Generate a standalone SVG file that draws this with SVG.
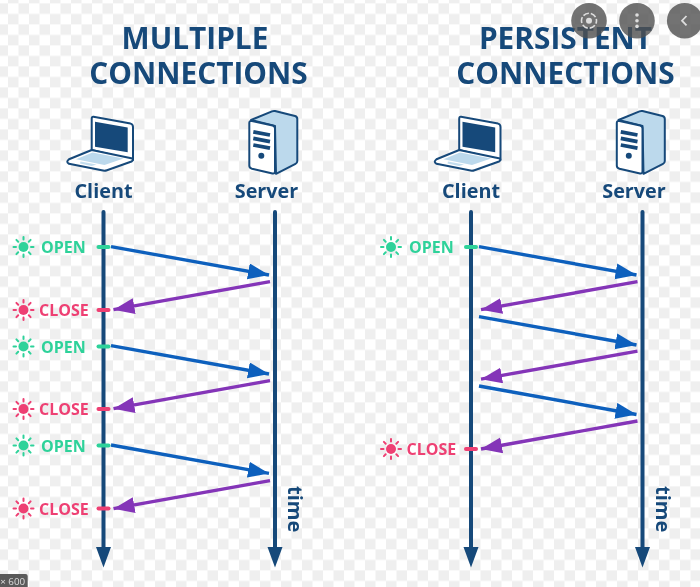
<svg xmlns="http://www.w3.org/2000/svg" xmlns:xlink="http://www.w3.org/1999/xlink" width="700" height="587" viewBox="0 0 700 587">
<style>
text{font-family:"Open Sans","Noto Sans","Liberation Sans",sans-serif}
.title{font-size:29.8px;font-weight:700;fill:#17497a;text-anchor:middle}
.role{font-size:19.8px;font-weight:700;fill:#17497a;text-anchor:middle}
.time{font-size:20px;font-weight:700;fill:#17497a}
.open{font-size:16px;font-weight:700;fill:#2fd29a}
.close{font-size:16px;font-weight:700;fill:#ee3f73}
.life{stroke:#17497a;stroke-width:4;stroke-linecap:round;fill:none}
.lifehead{fill:#17497a}
.req{stroke:#1060bd;stroke-width:3.4;fill:none;marker-end:url(#hb)}
.res{stroke:#8434b8;stroke-width:3.4;fill:none;marker-end:url(#hp)}
.tick-o{stroke:#2fd29a;stroke-width:4;stroke-linecap:round}
.tick-c{stroke:#ee3f73;stroke-width:4;stroke-linecap:round}
.ink{stroke:#17497a;stroke-width:2;stroke-linejoin:round}
.btn{fill:#505050;fill-opacity:.8}
</style>
<defs>
<filter id="soft" filterUnits="userSpaceOnUse" x="0" y="0" width="700" height="587"><feGaussianBlur stdDeviation="0.35"/></filter>
<pattern id="checker" patternUnits="userSpaceOnUse" x="8" y="3.4" width="21" height="21">
<rect width="21" height="21" fill="#ffffff"/>
<rect x="10.5" width="10.5" height="10.5" fill="#efefef"/>
<rect y="10.5" width="10.5" height="10.5" fill="#efefef"/>
</pattern>
<marker id="hb" markerUnits="userSpaceOnUse" markerWidth="24" markerHeight="20" refX="21" refY="8" orient="auto">
<path d="M0 0L21 8L0 16Z" fill="#1060bd"/>
</marker>
<marker id="hp" markerUnits="userSpaceOnUse" markerWidth="24" markerHeight="20" refX="21" refY="8" orient="auto">
<path d="M0 0L21 8L0 16Z" fill="#8434b8"/>
</marker>
<g id="laptop">
<path class="ink" fill="#fff" d="M93.5 116.8L130.5 123.6Q133 124.2 133 127V152L133 160L91.7 150V119Q91.7 116.5 93.5 116.8Z"/>
<path fill="#17497a" d="M95 121.7L127.7 127.4V152.3L95 146.7Z"/>
<path class="ink" fill="#fff" d="M91.7 150L132.5 158.5Q133.5 160.5 131.5 161.5L107 170.3Q105 171 103 170.6L69 163.8Q65.5 162 69 159.3Z"/>
<path fill="#bcd9ec" d="M92.5 152.5L123.5 158.5L104.5 165L76 159.3Z"/>
<path fill="#bcd9ec" fill-opacity=".9" d="M80.5 161.5L96.5 164.5L91.5 166L80 163.5Z"/>
</g>
<g id="server">
<path class="ink" fill="#bcd9ec" d="M251 120L272 111.3Q273.5 110.7 275 111L295 116Q297.3 116.7 297.3 119V161Q297.3 163 295.5 163.8L276 173.8L275 126Z"/>
<path class="ink" fill="#fff" d="M252 121L272.5 125.5Q275 126 275 128.5V171Q275 174 272.5 173.5L252 168.8Q249.3 168 249.3 165.5V123Q249.3 120.5 252 121Z"/>
<path stroke="#17497a" stroke-width="3.8" fill="none" d="M253.3 131.8L270 135M253.3 138.4L270 141.6M253.3 145L270 148.2"/>
<circle cx="261.3" cy="155.7" r="3" fill="#17497a"/>
</g>
<g id="sun">
<circle r="5" fill="currentColor"/>
<path stroke="currentColor" stroke-width="2" stroke-linecap="round" d="M0-7.5V-10M0 7.5V10M-7.5 0H-10M7.5 0H10M-5.3-5.3L-7.1-7.1M5.3-5.3L7.1-7.1M-5.3 5.3L-7.1 7.1M5.3 5.3L7.1 7.1"/>
</g>
</defs>
<rect id="background" width="700" height="587" fill="url(#checker)"/>
<g id="content" filter="url(#soft)">
<text class="title"><tspan x="195" y="49">MULTIPLE</tspan><tspan x="198.5" y="84">CONNECTIONS</tspan></text>
<text class="title"><tspan x="565.5" y="49">PERSISTENT</tspan><tspan x="565.5" y="84">CONNECTIONS</tspan></text>
<g id="client-left"><use xlink:href="#laptop" href="#laptop"/><text class="role" x="103.5" y="198">Client</text></g>
<g id="server-left"><use xlink:href="#server" href="#server"/><text class="role" x="266.5" y="198">Server</text></g>
<g id="client-right"><use xlink:href="#laptop" href="#laptop" x="367.5"/><text class="role" x="471" y="198">Client</text></g>
<g id="server-right"><use xlink:href="#server" href="#server" x="367.5"/><text class="role" x="634" y="198">Server</text></g>
<g id="connectors">
<path class="life" d="M103.5 212V550M275 212V550M471 212V550M642.5 212V550"/>
<path class="lifehead" d="M96 547H111L103.5 567.5ZM267.5 547H282.5L275 567.5ZM463.5 547H478.5L471 567.5ZM635 547H650L642.5 567.5Z"/>
<path class="req" d="M111 246.6L269 275"/>
<path class="res" d="M270 281.7L113.5 309.7"/>
<path class="req" d="M111 345.6L269 374"/>
<path class="res" d="M270 380.7L113.5 408.7"/>
<path class="req" d="M111 445L269 473.4"/>
<path class="res" d="M270 480.7L113.5 508.7"/>
<path class="req" d="M479 246.6L636.5 275"/>
<path class="res" d="M637.5 281.7L481 309.7"/>
<path class="req" d="M479 316.6L636.5 345"/>
<path class="res" d="M637.5 351.2L481 379.2"/>
<path class="req" d="M479 386L636.5 414.5"/>
<path class="res" d="M637.5 421L481 449"/>
</g>
<g id="open-1" color="#2fd29a"><use xlink:href="#sun" href="#sun" x="23.5" y="247"/><text class="open" x="41" y="253">OPEN</text><path class="tick-o" d="M98.5 247H108.5"/></g>
<g id="close-1" color="#ee3f73"><use xlink:href="#sun" href="#sun" x="23.5" y="310"/><text class="close" x="39" y="316">CLOSE</text><path class="tick-c" d="M98.5 310H108.5"/></g>
<g id="open-2" color="#2fd29a"><use xlink:href="#sun" href="#sun" x="23.5" y="346.5"/><text class="open" x="41" y="352.5">OPEN</text><path class="tick-o" d="M98.5 346.5H108.5"/></g>
<g id="close-2" color="#ee3f73"><use xlink:href="#sun" href="#sun" x="23.5" y="409"/><text class="close" x="39" y="415">CLOSE</text><path class="tick-c" d="M98.5 409H108.5"/></g>
<g id="open-3" color="#2fd29a"><use xlink:href="#sun" href="#sun" x="23.5" y="445.5"/><text class="open" x="41" y="451.5">OPEN</text><path class="tick-o" d="M98.5 445.5H108.5"/></g>
<g id="close-3" color="#ee3f73"><use xlink:href="#sun" href="#sun" x="23.5" y="508.5"/><text class="close" x="39" y="514.5">CLOSE</text><path class="tick-c" d="M98.5 508.5H108.5"/></g>
<g id="open-right" color="#2fd29a"><use xlink:href="#sun" href="#sun" x="391" y="247"/><text class="open" x="409" y="253">OPEN</text><path class="tick-o" d="M466 247H476"/></g>
<g id="close-right" color="#ee3f73"><use xlink:href="#sun" href="#sun" x="391" y="449"/><text class="close" x="406.5" y="455">CLOSE</text><path class="tick-c" d="M466 449H476"/></g>
<text class="time" transform="translate(288 486) rotate(90)">time</text>
<text class="time" transform="translate(655.5 486) rotate(90)">time</text>
</g>
<g id="overlay-lens"><circle class="btn" cx="589" cy="20.7" r="17.8"/><circle cx="589" cy="20.7" r="3" fill="#ddd"/><circle cx="589" cy="20.7" r="7.5" fill="none" stroke="#ddd" stroke-width="1.6" stroke-dasharray="6 2" stroke-dashoffset="3"/></g>
<g id="overlay-menu"><circle class="btn" cx="637" cy="20.7" r="17.8"/><circle cx="637" cy="15" r="1.8" fill="#ddd"/><circle cx="637" cy="20.7" r="1.8" fill="#ddd"/><circle cx="637" cy="26.4" r="1.8" fill="#ddd"/></g>
<g id="overlay-back"><circle class="btn" cx="684.7" cy="20.7" r="17.8"/><path d="M686.5 16L682 20.7L686.5 25.4" fill="none" stroke="#ddd" stroke-width="1.8"/></g>
<g id="size-badge"><path d="M0 574H25.5Q27.7 574 27.7 576V587H0Z" fill="#5a5a5a"/><text x="0.2" y="585" font-size="9.8" fill="#ddd">× 600</text></g>
</svg>
